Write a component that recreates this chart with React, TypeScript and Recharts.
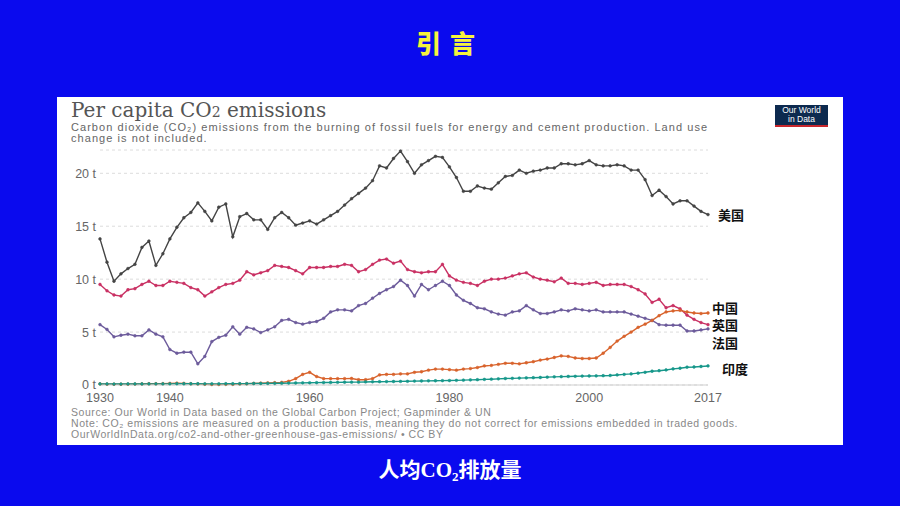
import React from 'react';
import { LineChart, Line, XAxis, YAxis, CartesianGrid } from 'recharts';

const years: number[] = [];
for (let y = 1930; y <= 2017; y++) years.push(y);

const usValues = [
  13.8, 11.6, 9.8, 10.5, 11.0, 11.4, 13.0, 13.6, 11.3, 12.4,
  13.8, 14.9, 15.8, 16.3, 17.2, 16.4, 15.5, 16.8, 17.1, 14.0,
  15.9, 16.2, 15.6, 15.6, 14.7, 15.8, 16.3, 15.8, 15.1, 15.3,
  15.5, 15.2, 15.6, 16.0, 16.4, 17.0, 17.6, 18.1, 18.6, 19.3,
  20.7, 20.5, 21.4, 22.1, 21.1, 20.0, 20.8, 21.2, 21.6, 21.5,
  20.6, 19.6, 18.3, 18.3, 18.8, 18.6, 18.5, 19.1, 19.7, 19.8,
  20.3, 20.0, 20.2, 20.3, 20.5, 20.5, 20.9, 20.9, 20.8, 20.9,
  21.2, 20.8, 20.7, 20.7, 20.8, 20.7, 20.3, 20.3, 19.4, 17.9,
  18.4, 17.8, 17.1, 17.4, 17.4, 16.9, 16.4, 16.1,
];

const ukValues = [
  9.5, 8.9, 8.5, 8.4, 9.0, 9.1, 9.5, 9.8, 9.4, 9.4,
  9.8, 9.7, 9.6, 9.2, 9.0, 8.4, 8.8, 9.2, 9.5, 9.6,
  9.9, 10.7, 10.4, 10.6, 10.8, 11.3, 11.2, 11.1, 10.8, 10.5,
  11.1, 11.1, 11.1, 11.2, 11.2, 11.4, 11.3, 10.7, 10.9, 11.4,
  11.8, 11.9, 11.5, 11.7, 10.9, 10.7, 10.6, 10.7, 10.7, 11.4,
  10.3, 9.9, 9.7, 9.6, 9.4, 9.8, 10.0, 10.0, 10.1, 10.3,
  10.5, 10.6, 10.2, 10.0, 9.9, 9.75, 10.1, 9.6, 9.6, 9.5,
  9.6, 9.7, 9.4, 9.5, 9.5, 9.5, 9.3, 9.0, 8.6, 7.8,
  8.1, 7.3, 7.5, 7.2, 6.6, 6.2, 5.9, 5.7,
];

const franceValues = [
  5.7, 5.25, 4.55, 4.7, 4.8, 4.65, 4.65, 5.2, 4.8, 4.55,
  3.35, 3.0, 3.1, 3.1, 2.0, 2.7, 4.1, 4.5, 4.7, 5.5,
  4.8, 5.45, 5.3, 4.95, 5.2, 5.5, 6.1, 6.2, 5.9, 5.75,
  5.9, 6.0, 6.3, 6.9, 7.1, 7.1, 7.0, 7.5, 7.7, 8.2,
  8.65, 9.0, 9.3, 9.9, 9.4, 8.4, 9.5, 9.0, 9.4, 9.8,
  9.4, 8.5, 8.0, 7.7, 7.3, 7.2, 6.9, 6.7, 6.6, 6.9,
  7.0, 7.5, 7.1, 6.75, 6.75, 6.9, 7.1, 7.0, 7.2, 7.1,
  7.0, 7.1, 6.9, 6.9, 6.9, 6.9, 6.7, 6.5, 6.3, 6.1,
  5.7, 5.65, 5.65, 5.65, 5.1, 5.1, 5.2, 5.3,
];

const chinaValues = [
  0.1, 0.08, 0.07, 0.07, 0.08, 0.09, 0.1, 0.12, 0.12, 0.13,
  0.15, 0.17, 0.15, 0.12, 0.1, 0.07, 0.05, 0.05, 0.06, 0.06,
  0.1, 0.12, 0.15, 0.18, 0.2, 0.22, 0.25, 0.35, 0.6, 1.0,
  1.2, 0.8, 0.6, 0.6, 0.6, 0.6, 0.62, 0.5, 0.5, 0.6,
  0.95, 1.0, 1.0, 1.05, 1.05, 1.2, 1.25, 1.4, 1.5, 1.5,
  1.45, 1.4, 1.5, 1.55, 1.65, 1.8, 1.85, 1.95, 2.05, 2.05,
  2.0, 2.1, 2.2, 2.35, 2.45, 2.6, 2.75, 2.7, 2.55, 2.5,
  2.5, 2.55, 3.0, 3.55, 4.15, 4.6, 5.0, 5.45, 5.75, 6.1,
  6.55, 6.9, 7.0, 7.05, 6.9, 6.8, 6.75, 6.8,
];

const indiaValues = [
  0.1, 0.1, 0.09, 0.09, 0.1, 0.1, 0.1, 0.11, 0.11, 0.11,
  0.11, 0.12, 0.12, 0.12, 0.12, 0.11, 0.11, 0.11, 0.12, 0.12,
  0.13, 0.13, 0.14, 0.14, 0.15, 0.16, 0.17, 0.18, 0.19, 0.2,
  0.21, 0.22, 0.23, 0.24, 0.25, 0.26, 0.27, 0.27, 0.29, 0.3,
  0.31, 0.32, 0.33, 0.34, 0.35, 0.37, 0.38, 0.39, 0.4, 0.41,
  0.42, 0.44, 0.46, 0.48, 0.5, 0.53, 0.55, 0.58, 0.61, 0.63,
  0.65, 0.67, 0.69, 0.71, 0.74, 0.77, 0.79, 0.81, 0.82, 0.84,
  0.85, 0.86, 0.88, 0.9, 0.95, 1.0, 1.05, 1.12, 1.2, 1.3,
  1.35, 1.42, 1.52, 1.58, 1.68, 1.7, 1.75, 1.8,
];

const xTicks = [1930, 1940, 1960, 1980, 2000, 2017];
const yTicks = [0, 5, 10, 15, 20];

const seriesNames = ['美国', '英国', '法国', '中国', '印度'];
const seriesKeys = ['us', 'uk', 'france', 'china', 'india'];
const seriesColors = ['#444444', '#c93063', '#6c5b9b', '#d8632c', '#16978a'];
const labelOffsets: [number, number][] = [
  [10, 0],
  [4, 0],
  [4, 14],
  [4, -6],
  [14, 3],
];

const data = years.map((year, i) => ({
  year,
  us: usValues[i],
  uk: ukValues[i],
  france: franceValues[i],
  china: chinaValues[i],
  india: indiaValues[i],
}));

const BLUE = '#0a0aee';

const makeEndLabel = (text: string, dx: number, dy: number) => (props: any) => {
  const { x, y, index } = props;
  if (index !== years.length - 1) return <g />;
  return (
    <text
      x={x + dx}
      y={y + dy}
      dominantBaseline="central"
      fontFamily="'Noto Sans CJK SC', sans-serif"
      fontWeight={700}
      fontSize={13}
      fill="#111"
    >
      {text}
    </text>
  );
};

export default function App() {
  return (
    <div
      style={{
        position: 'absolute',
        left: 0,
        top: 0,
        width: 900,
        height: 506,
        background: BLUE,
        overflow: 'hidden',
      }}
    >
      <div
        style={{
          position: 'absolute',
          left: 0,
          width: 900,
          top: 27,
          textAlign: 'center',
          color: '#f6f33c',
          fontFamily: "'Noto Sans CJK SC', sans-serif",
          fontWeight: 900,
          fontSize: 25,
          letterSpacing: 9,
          lineHeight: '30px',
        }}
      >
        引言
      </div>

      <div
        style={{
          position: 'absolute',
          left: 57,
          top: 97,
          width: 786,
          height: 348,
          background: '#ffffff',
        }}
      />

      <div
        style={{
          position: 'absolute',
          left: 71,
          top: 99,
          fontFamily: "'DejaVu Serif', serif",
          fontSize: 20,
          color: '#555',
          lineHeight: '22px',
          whiteSpace: 'nowrap',
        }}
      >
        Per capita CO<span style={{ fontSize: 14 }}>2</span> emissions
      </div>
      <div
        style={{
          position: 'absolute',
          left: 71,
          top: 122,
          fontFamily: "'Liberation Sans', Arial, sans-serif",
          fontSize: 11,
          letterSpacing: 1.05,
          color: '#666',
          lineHeight: '10.5px',
          whiteSpace: 'nowrap',
        }}
      >
        Carbon dioxide (CO₂) emissions from the burning of fossil fuels for energy and cement production. Land use
        <br />
        change is not included.
      </div>

      <div
        style={{
          position: 'absolute',
          left: 775,
          top: 105,
          width: 53,
          height: 22,
          background: '#0d2a4f',
          borderBottom: '2px solid #c8262c',
          boxSizing: 'border-box',
          color: '#fff',
          fontFamily: "'Liberation Sans', Arial, sans-serif",
          fontSize: 8.5,
          lineHeight: '9px',
          textAlign: 'center',
          paddingTop: 1,
        }}
      >
        Our World
        <br />
        in Data
      </div>

      <div style={{ position: 'absolute', left: 0, top: 0 }}>
        <LineChart
          width={900}
          height={506}
          data={data}
          margin={{ top: 150, right: 192, bottom: 91, left: 70 }}
        >
          <CartesianGrid vertical={false} stroke="#dcdcdc" strokeDasharray="3 3" />
          <XAxis
            dataKey="year"
            type="number"
            domain={[1930, 2017]}
            ticks={xTicks}
            height={30}
            tickSize={0}
            tickMargin={8}
            axisLine={{ stroke: '#cfcfcf' }}
            tick={{ fill: '#666', fontSize: 12.5, fontFamily: "'Liberation Sans', Arial, sans-serif" }}
          />
          <YAxis
            type="number"
            domain={[0, 22.2]}
            ticks={yTicks}
            width={30}
            tickSize={0}
            tickMargin={4}
            axisLine={false}
            tickFormatter={(v: number) => `${v} t`}
            tick={{ fill: '#666', fontSize: 12.5, fontFamily: "'Liberation Sans', Arial, sans-serif" }}
          />
          {seriesKeys.map((key, i) => (
            <Line
              key={key}
              type="linear"
              dataKey={key}
              stroke={seriesColors[i]}
              strokeWidth={1.4}
              dot={{ r: 1.4, fill: seriesColors[i], stroke: seriesColors[i], strokeWidth: 0.5 }}
              activeDot={false}
              isAnimationActive={false}
              label={makeEndLabel(seriesNames[i], labelOffsets[i][0], labelOffsets[i][1])}
            />
          ))}
        </LineChart>
      </div>

      <div
        style={{
          position: 'absolute',
          left: 71,
          top: 407,
          fontFamily: "'Liberation Sans', Arial, sans-serif",
          fontSize: 10.5,
          letterSpacing: 0.55,
          color: '#888',
          lineHeight: '11px',
          whiteSpace: 'nowrap',
        }}
      >
        Source: Our World in Data based on the Global Carbon Project; Gapminder &amp; UN
        <br />
        Note: CO₂ emissions are measured on a production basis, meaning they do not correct for emissions embedded in traded goods.
        <br />
        OurWorldInData.org/co2-and-other-greenhouse-gas-emissions/ • CC BY
      </div>

      <div
        style={{
          position: 'absolute',
          left: 0,
          width: 900,
          top: 457,
          textAlign: 'center',
          color: '#ffffff',
          fontFamily: "'Liberation Serif', 'Noto Sans CJK SC', serif",
          fontWeight: 700,
          fontSize: 21,
          lineHeight: '26px',
        }}
      >
        人均CO<sub style={{ fontSize: 13, verticalAlign: '-4px' }}>2</sub>排放量
      </div>
    </div>
  );
}
